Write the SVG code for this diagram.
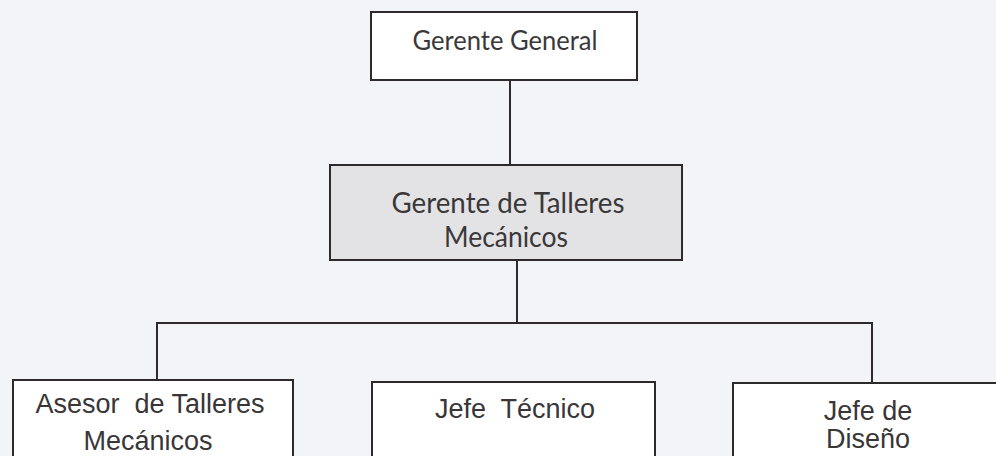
<svg xmlns="http://www.w3.org/2000/svg" width="996" height="456" viewBox="0 0 996 456">
<style>
.box{fill:#ffffff;stroke:#2e2a2c;stroke-width:2}
.gray{fill:#e3e3e5}
.cal{font-family:Lato,"Open Sans","Liberation Sans",sans-serif;fill:#3b3839;text-anchor:middle}
.ari{font-family:"Liberation Sans",Arial,sans-serif;fill:#3a3637;text-anchor:middle;font-size:27px}
.conn{fill:none;stroke:#2e2a2c;stroke-width:2}
</style>
<rect x="0" y="0" width="996" height="456" fill="#f3f4f7"/>
<g id="connectors">
<line class="conn" x1="510" y1="80" x2="510" y2="165"/>
<line class="conn" x1="517" y1="260" x2="517" y2="323"/>
<polyline class="conn" points="157,381 157,323 872,323 872,383"/>
</g>
<g id="gerente-general">
<rect class="box" x="371" y="12" width="266" height="68"/>
<text class="cal" x="505" y="50" font-size="26" textLength="185" lengthAdjust="spacingAndGlyphs">Gerente General</text>
</g>
<g id="gerente-talleres">
<rect class="box gray" x="330" y="165" width="352" height="95"/>
<text class="cal" x="508" y="213" font-size="28" textLength="233" lengthAdjust="spacingAndGlyphs">Gerente de Talleres</text>
<text class="cal" x="506" y="247" font-size="28" textLength="124" lengthAdjust="spacingAndGlyphs">Mecánicos</text>
</g>
<g id="asesor">
<rect class="box" x="13" y="380" width="280" height="90"/>
<text class="ari" x="150" y="413" xml:space="preserve">Asesor  de Talleres</text>
<text class="ari" x="148" y="450">Mecánicos</text>
</g>
<g id="jefe-tecnico">
<rect class="box" x="372" y="382" width="283" height="90"/>
<text class="ari" x="515" y="418" xml:space="preserve">Jefe  Técnico</text>
</g>
<g id="jefe-diseno">
<rect class="box" x="733" y="383" width="280" height="90"/>
<text class="ari" x="868" y="420">Jefe de</text>
<text class="ari" x="868" y="448">Diseño</text>
</g>
</svg>
